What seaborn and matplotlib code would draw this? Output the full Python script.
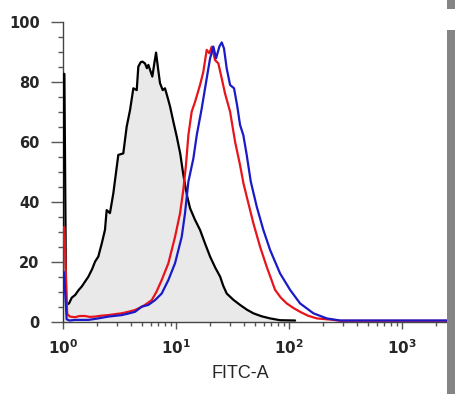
import numpy as np
import pandas as pd
import matplotlib
matplotlib.use("Agg")
import matplotlib.pyplot as plt
import seaborn as sns
from matplotlib.patches import Rectangle
from matplotlib.ticker import MultipleLocator, LogLocator, NullFormatter

# ---- data (log10 of FITC-A intensity, % of max) ----
iso_log = [0.0, 0.0, 0.015, 0.03, 0.056, 0.08, 0.11, 0.14, 0.168, 0.2, 0.227, 0.26, 0.286, 0.315,
           0.345, 0.374, 0.389, 0.418, 0.448, 0.463, 0.492, 0.536, 0.566, 0.596, 0.625, 0.655,
           0.669, 0.69, 0.705, 0.728, 0.745, 0.758, 0.793, 0.81, 0.826, 0.845, 0.861, 0.885,
           0.905, 0.93, 0.95, 0.98, 1.009, 1.04, 1.067, 1.1, 1.127, 1.17, 1.215, 1.26, 1.304,
           1.35, 1.393, 1.42, 1.451, 1.51, 1.569, 1.63, 1.687, 1.76, 1.835, 1.923, 2.056]
iso_cnt = [0.0, 82.6, 82.6, 5.5, 6.1, 8.0, 8.9, 10.5, 11.7, 13.5, 15.0, 17.5, 20.0, 21.7,
           26.0, 30.6, 37.2, 36.2, 42.8, 47.2, 55.6, 56.1, 65.0, 70.6, 77.8, 77.2,
           85.0, 86.5, 86.7, 86.1, 84.5, 85.6, 81.7, 86.0, 89.7, 84.0, 79.5, 77.2,
           77.8, 74.5, 71.7, 66.5, 61.7, 56.0, 49.0, 42.0, 37.8, 34.0, 30.6, 26.0, 21.7,
           18.0, 15.0, 12.0, 9.4, 7.3, 5.6, 4.0, 2.8, 1.8, 1.1, 0.5, 0.4]

red_log = [0.0, 0.0, 0.015, 0.04, 0.065, 0.109, 0.15, 0.197, 0.24, 0.286, 0.34, 0.404, 0.46,
           0.522, 0.58, 0.64, 0.69, 0.728, 0.788, 0.83, 0.876, 0.935, 0.994, 1.038, 1.067,
           1.09, 1.112, 1.141, 1.171, 1.215, 1.244, 1.274, 1.297, 1.319, 1.348, 1.377, 1.407,
           1.436, 1.481, 1.525, 1.569, 1.6, 1.628, 1.687, 1.746, 1.805, 1.879, 1.93, 1.982,
           2.04, 2.1, 2.17, 2.248, 2.395, 2.454, 3.4]
red_cnt = [0.0, 31.5, 31.5, 2.5, 1.7, 1.5, 1.9, 1.9, 1.6, 1.7, 2.0, 2.2, 2.5,
           2.8, 3.3, 3.9, 4.8, 5.6, 7.2, 10.0, 13.9, 19.5, 28.3, 36.1, 43.9,
           52.0, 62.2, 70.0, 73.3, 78.9, 83.3, 90.6, 89.5, 91.7, 87.2, 86.1, 81.1,
           76.1, 70.0, 60.0, 52.2, 46.0, 41.7, 32.8, 25.0, 18.3, 10.6, 8.0, 6.1,
           4.6, 3.3, 2.0, 1.1, 0.6, 0.3, 0.3]

blue_log = [0.0, 0.0, 0.012, 0.035, 0.06, 0.109, 0.17, 0.227, 0.315, 0.404, 0.522, 0.58, 0.64,
            0.699, 0.758, 0.817, 0.876, 0.935, 0.994, 1.053, 1.082, 1.112, 1.156, 1.186, 1.23,
            1.274, 1.304, 1.333, 1.357, 1.386, 1.407, 1.427, 1.451, 1.481, 1.516, 1.545, 1.569,
            1.598, 1.628, 1.664, 1.717, 1.775, 1.835, 1.923, 2.012, 2.1, 2.218, 2.336, 2.454, 3.4]
blue_cnt = [0.0, 16.5, 16.5, 0.8, 0.4, 0.6, 0.6, 0.6, 1.1, 1.7, 2.2, 2.7, 3.3,
            5.0, 5.6, 7.2, 9.4, 13.9, 19.5, 28.3, 36.1, 46.7, 54.4, 62.2, 71.1,
            81.1, 87.8, 91.7, 87.8, 91.7, 93.1, 91.1, 84.4, 78.9, 77.8, 71.7, 65.6,
            62.2, 55.6, 46.7, 38.3, 30.6, 23.9, 16.1, 10.6, 6.1, 2.8, 1.1, 0.4, 0.4]

series_names = ["Isotype", "Sample 1", "Sample 2"]
series_colors = ["#000000", "#e8141c", "#1a1ac8"]

y_ticks = [0, 20, 40, 60, 80, 100]
x_ticks = [1, 10, 100, 1000]
x_ticklabels = [r"$\mathbf{10^{0}}$", r"$\mathbf{10^{1}}$", r"$\mathbf{10^{2}}$", r"$\mathbf{10^{3}}$"]
x_label = "FITC-A"

sns.set_style("white")
plt.rcParams["font.family"] = ["DejaVu Sans"]
plt.rcParams["mathtext.fontset"] = "dejavusans"

fig = plt.figure(figsize=(4.56, 3.94), dpi=100)
ax = fig.add_axes([62.7 / 456, (394 - 321.7) / 394, (447 - 62.7) / 456, 300 / 394])

# isotype fill
iso_x = 10 ** np.array(iso_log)
ax.fill_between(iso_x, iso_cnt, 0, color="#e9e9e9", lw=0, zorder=1)

for name, lx, cnt, col in zip(series_names, [iso_log, red_log, blue_log],
                              [iso_cnt, red_cnt, blue_cnt], series_colors):
    d = pd.DataFrame({"FITC": 10 ** np.array(lx), "Count": cnt})
    sns.lineplot(data=d, x="FITC", y="Count", sort=False, estimator=None,
                 color=col, lw=1.6, ax=ax, zorder=3)

ax.set_xscale("log")
ax.set_xlim(1, 10 ** 3.4)
ax.set_ylim(0, 100)

ax.set_xticks(x_ticks)
ax.set_xticklabels(x_ticklabels)
ax.xaxis.set_minor_locator(LogLocator(base=10, subs=np.arange(2, 10)))
ax.xaxis.set_minor_formatter(NullFormatter())
ax.set_yticks(y_ticks)
ax.yaxis.set_minor_locator(MultipleLocator(5))

for s in ["top", "right"]:
    ax.spines[s].set_visible(False)
for s in ["left", "bottom"]:
    ax.spines[s].set_color("#444444")
    ax.spines[s].set_linewidth(1.0)

ax.tick_params(axis="y", which="major", direction="out", length=8.6, width=1, color="#555555",
               pad=8, labelsize=10.5)
ax.tick_params(axis="y", which="minor", direction="out", length=3.6, width=1, color="#555555")
ax.tick_params(axis="x", which="major", direction="out", length=5, width=1, color="#555555",
               pad=7, labelsize=11)
ax.tick_params(axis="x", which="minor", direction="out", length=3, width=1, color="#555555")
ax.tick_params(left=True, bottom=True, which="both")
for lab in ax.get_yticklabels():
    lab.set_fontweight("bold")

ax.set_xlabel(x_label, fontsize=13, family=["Liberation Sans", "DejaVu Sans"])
ax.set_ylabel("")
ax.xaxis.set_label_coords((240 - 62.7) / 384.3, (321.7 - 373) / 300)
ax.xaxis.label.set_va("center")

# screenshot border artefact on the right
fig.patches.append(Rectangle((447 / 456, 0), 9 / 456, (394 - 30) / 394, transform=fig.transFigure,
                             facecolor="#858585", edgecolor="none", zorder=0))
fig.patches.append(Rectangle((447 / 456, (394 - 9) / 394), 9 / 456, 9 / 394, transform=fig.transFigure,
                             facecolor="#858585", edgecolor="none", zorder=0))

fig.savefig("out.png", dpi=100)
